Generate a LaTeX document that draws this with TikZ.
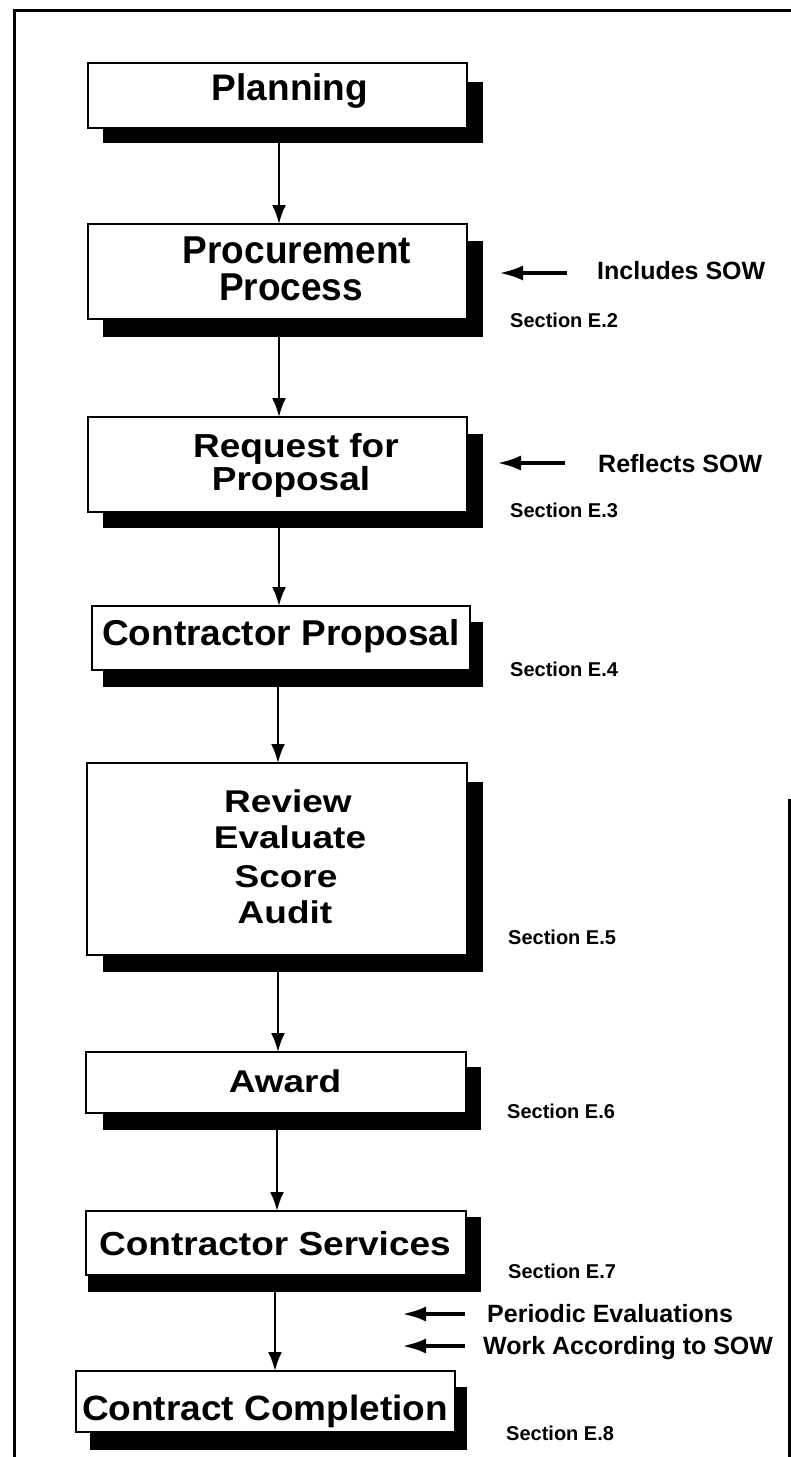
\documentclass[tikz,border=0pt]{standalone}
\usepackage{fontspec}
\usepackage{graphicx}
\setmainfont{Liberation Sans}
\usetikzlibrary{arrows.meta}
\tikzset{
  box/.style={draw=black, line width=1.8pt, fill=white, inner sep=0pt, outer sep=0pt},
  shadowbox/.style={fill=black, draw=none, inner sep=0pt, outer sep=0pt},
  boxtxt/.style={anchor=base, inner sep=0pt, font=\fontsize{37}{40}\selectfont\bfseries},
  sectxt/.style={anchor=base west, inner sep=0pt, font=\fontsize{20}{22}\selectfont\bfseries},
  notetxt/.style={anchor=base west, inner sep=0pt, font=\fontsize{25}{28}\selectfont\bfseries},
  flow/.style={line width=2.4pt, -{Latex[length=19pt,width=14pt]}},
  side/.style={line width=4pt, -{Latex[length=24pt,width=15pt]}},
  frame/.style={line width=3pt, line cap=rect}
}
\begin{document}
\begin{tikzpicture}[x=1pt,y=-1pt]
\useasboundingbox (0,0) rectangle (791,1457);
\fill[white] (0,0) rectangle (791,1457);
% frame
\draw[frame] (14,1457) -- (14,10) -- (791,10);
\draw[frame] (789,800) -- (789,1457);

% shadows
\node[shadowbox, minimum width=380pt, minimum height=61pt] (s1) at (293,112.5) {};
\node[shadowbox, minimum width=380pt, minimum height=96pt] (s2) at (293,289) {};
\node[shadowbox, minimum width=380pt, minimum height=94pt] (s3) at (293,481) {};
\node[shadowbox, minimum width=380pt, minimum height=65pt] (s4) at (293,654.5) {};
\node[shadowbox, minimum width=380pt, minimum height=190pt] (s5) at (293,877) {};
\node[shadowbox, minimum width=378pt, minimum height=63pt] (s6) at (292,1098.5) {};
\node[shadowbox, minimum width=393pt, minimum height=75pt] (s7) at (284.5,1254.5) {};
\node[shadowbox, minimum width=377pt, minimum height=63pt] (s8) at (278.5,1418.5) {};

% boxes
\node[box, minimum width=379pt, minimum height=65pt] (b1) at (277.5,95.5) {};
\node[box, minimum width=379pt, minimum height=95pt] (b2) at (277.5,271.5) {};
\node[box, minimum width=379pt, minimum height=95pt] (b3) at (277.5,464.5) {};
\node[box, minimum width=378pt, minimum height=64pt] (b4) at (281,638) {};
\node[box, minimum width=380pt, minimum height=192pt] (b5) at (277,859) {};
\node[box, minimum width=380pt, minimum height=61pt] (b6) at (276,1082.5) {};
\node[box, minimum width=380pt, minimum height=64pt] (b7) at (276,1243) {};
\node[box, minimum width=379pt, minimum height=61pt] (b8) at (265.5,1401.5) {};

% box texts
\node[boxtxt] (t1) at (290,100) {Planning};
\node[boxtxt] (t2a) at (297,263) {\scalebox{1}[1.05]{Procurement}};
\node[boxtxt] (t2b) at (291,300) {\scalebox{1}[1.05]{Process}};
\node[boxtxt] (t3a) at (296,457) {\scalebox{1}[0.9]{Request for}};
\node[boxtxt] (t3b) at (291,490) {\scalebox{1}[0.9]{Proposal}};
\node[boxtxt] (t4) at (281,645) {\scalebox{1}[0.97]{Contractor Proposal}};
\node[boxtxt] (t5a) at (288,812) {\scalebox{1}[0.85]{Review}};
\node[boxtxt] (t5b) at (290,848) {\scalebox{1}[0.85]{Evaluate}};
\node[boxtxt] (t5c) at (286,887) {\scalebox{1}[0.85]{Score}};
\node[boxtxt] (t5d) at (285,923) {\scalebox{1}[0.85]{Audit}};
\node[boxtxt] (t6) at (285,1092) {\scalebox{1}[0.85]{Award}};
\node[boxtxt] (t7) at (275,1255) {\scalebox{1}[0.9]{Contractor Services}};
\node[boxtxt] (t8) at (265,1420) {\scalebox{1}[0.95]{Contract Completion}};

% flow arrows
\coordinate (x1) at (279,0);
\coordinate (x2) at (279,0);
\coordinate (x3) at (279,0);
\coordinate (x4) at (278,0);
\coordinate (x5) at (278,0);
\coordinate (x6) at (277,0);
\coordinate (x7) at (275,0);
\draw[flow] (s1.south -| x1) -- (b2.north -| x1);
\draw[flow] (s2.south -| x2) -- (b3.north -| x2);
\draw[flow] (s3.south -| x3) -- (b4.north -| x3);
\draw[flow] (s4.south -| x4) -- (b5.north -| x4);
\draw[flow] (s5.south -| x5) -- (b6.north -| x5);
\draw[flow] (s6.south -| x6) -- (b7.north -| x6);
\draw[flow] (s7.south -| x7) -- (b8.north -| x7);

% section labels
\node[sectxt] (e2) at (510,327) {Section E.2};
\node[sectxt] (e3) at (510,517) {Section E.3};
\node[sectxt] (e4) at (510,676) {Section E.4};
\node[sectxt] (e5) at (508,944) {Section E.5};
\node[sectxt] (e6) at (507,1118) {Section E.6};
\node[sectxt] (e7) at (508,1278) {Section E.7};
\node[sectxt] (e8) at (506,1440) {Section E.8};

% notes with arrows
\node[notetxt] (n1) at (597,279) {Includes SOW};
\node[notetxt] (n2) at (598,472) {Reflects SOW};
\node[notetxt] (n3) at (487,1322) {Periodic Evaluations};
\node[notetxt] (n4) at (483,1354) {Work According to SOW};
\coordinate (a1t) at (567,273); \coordinate (a1h) at (499,273);
\coordinate (a2t) at (565,463); \coordinate (a2h) at (497,463);
\coordinate (a3t) at (465,1314); \coordinate (a3h) at (402,1314);
\coordinate (a4t) at (465,1346); \coordinate (a4h) at (402,1346);
\draw[side] (a1t) -- (a1h);
\draw[side] (a2t) -- (a2h);
\draw[side] (a3t) -- (a3h);
\draw[side] (a4t) -- (a4h);
\end{tikzpicture}
\end{document}
